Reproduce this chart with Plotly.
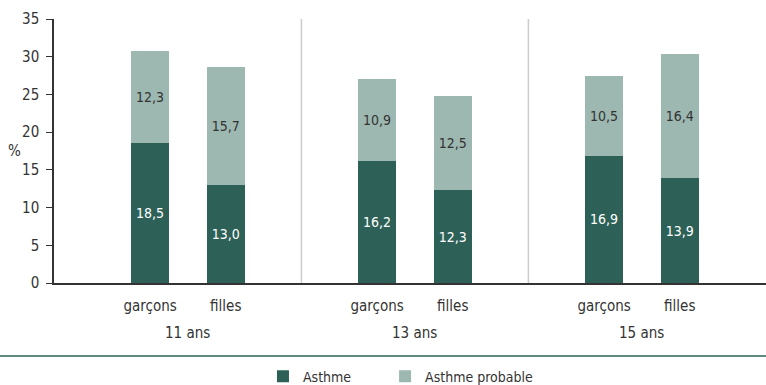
import plotly.graph_objects as go

# Prévalence de l'asthme selon l'âge et le sexe (%)
groups = ["11 ans", "13 ans", "15 ans"]
sexes = ["garçons", "filles"]
asthme = [18.5, 13.0, 16.2, 12.3, 16.9, 13.9]
asthme_probable = [12.3, 15.7, 10.9, 12.5, 10.5, 16.4]

# bar positions: each age group spans 6 units, bars at ±1 around its centre
group_centres = [3 + 6 * i for i in range(len(groups))]
xpos = [c + d for c in group_centres for d in (-1, 1)]
tick_text = [s for _ in groups for s in sexes]

DARK = "#2d6157"
LIGHT = "#9db8b1"
TEXT = "#333333"
FONT = "DejaVu Sans Condensed, DejaVu Sans, sans-serif"


def fmt(v):
    return f"{v:.1f}".replace(".", ",")


fig = go.Figure()
fig.add_trace(go.Bar(
    x=xpos, y=asthme, name="Asthme", width=1.0, legend="legend",
    marker=dict(color=DARK, line=dict(width=0)),
    text=[fmt(v) for v in asthme], textposition="inside",
    insidetextanchor="middle", textangle=0,
    textfont=dict(color="white", size=14, family=FONT),
))
fig.add_trace(go.Bar(
    x=xpos, y=asthme_probable, name="Asthme probable", width=1.0,
    legend="legend2",
    marker=dict(color=LIGHT, line=dict(width=0)),
    text=[fmt(v) for v in asthme_probable], textposition="inside",
    insidetextanchor="middle", textangle=0,
    textfont=dict(color=TEXT, size=14, family=FONT),
))

# separators between age groups
for i in range(1, len(groups)):
    fig.add_shape(type="line", xref="x", yref="y",
                  x0=6 * i, x1=6 * i, y0=0, y1=35,
                  line=dict(color="#cccccc", width=1.5))

# age group labels under the sex labels
for c, g in zip(group_centres, groups):
    fig.add_annotation(x=c, y=-0.189, xref="x", yref="paper", text=g,
                       showarrow=False, yanchor="middle",
                       font=dict(size=15, color=TEXT, family=FONT))

# horizontal unit label
fig.add_annotation(x=-0.056, y=0.5, xref="paper", yref="paper", text="%",
                   showarrow=False, xanchor="center", yanchor="middle",
                   font=dict(size=15, color=TEXT, family=FONT))

# rule above the legend
fig.add_shape(type="line", xref="paper", yref="paper",
              x0=-0.08, x1=1.0, y0=-0.2765, y1=-0.2765,
              line=dict(color="#5f8a80", width=2))

legend_common = dict(orientation="h", xanchor="left", y=-0.355,
                     yanchor="middle", bgcolor="rgba(0,0,0,0)",
                     font=dict(size=14, family=FONT, color=TEXT))

fig.update_layout(
    width=766, height=385,
    margin=dict(l=54, r=0, t=19, b=102, autoexpand=False),
    barmode="stack",
    plot_bgcolor="white", paper_bgcolor="white",
    font=dict(family=FONT, size=15, color=TEXT),
    showlegend=True,
    legend=dict(x=0.2935, **legend_common),
    legend2=dict(x=0.465, **legend_common),
    xaxis=dict(range=[-0.54, 18.28], tickmode="array",
               tickvals=xpos, ticktext=tick_text, ticks="",
               showgrid=False, zeroline=False,
               showline=True, linecolor=TEXT, linewidth=2,
               ticklabelstandoff=8,
               tickfont=dict(size=15, family=FONT, color=TEXT)),
    yaxis=dict(range=[0, 35], dtick=5, ticks="outside", ticklen=6,
               tickcolor=TEXT, tickwidth=1,
               showgrid=False, zeroline=False,
               showline=True, linecolor=TEXT, linewidth=1.5,
               ticklabelstandoff=4,
               tickfont=dict(size=15, family=FONT, color=TEXT)),
)

fig.write_html("out.html")
